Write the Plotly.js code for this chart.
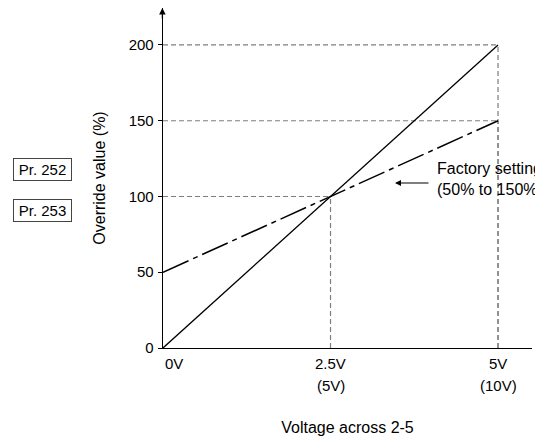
<!DOCTYPE html>
<html>
<head>
<meta charset="utf-8">
<script src="https://cdn.plot.ly/plotly-3.0.1.min.js"></script>
<style>html,body{margin:0;padding:0;background:#fff;}#chart{width:535px;height:441px;}</style>
</head>
<body>
<div id="chart"></div>
<script>
// ---- data ----
var voltage = [0, 2.5, 5];                 // Voltage across 2-5 (V)
var overrideMax = [0, 100, 200];            // solid line
var factorySetting = [50, 100, 150];        // dash-dot line (factory setting 50% to 150%)
var yTickVals = [0, 50, 100, 150, 200];
var xTickVals = [0, 2.5, 5];
var xTickLine1 = ['0V', '2.5V', '5V'];
var xTickLine2 = ['', '(5V)', '(10V)'];
var paramLabels = ['Pr. 252', 'Pr. 253'];

// ---- layout constants ----
var W = 535, H = 441, ML = 163, MR = 3, MT = 8, MB = 93;
var XMAX = 5.507, YMAX = 224.4;
var FONT = 'Liberation Sans, Arial, sans-serif';
var FS = 15, FT = 16;
function px2x(px) { return (px - ML) / (W - ML - MR); }
function py2y(py) { return (H - MB - py) / (H - MT - MB); }

var traces = [];
// guide (dashed gray) lines derived from data key points
var keyPts = [[voltage[1], overrideMax[1]], [voltage[2], factorySetting[2]], [voltage[2], overrideMax[2]]];
keyPts.forEach(function (p) {
  traces.push({x: [0, p[0]], y: [p[1], p[1]], mode: 'lines', hoverinfo: 'skip', showlegend: false,
    line: {color: '#7f7f7f', width: 1.2, dash: '5px,3px'}});
  traces.push({x: [p[0], p[0]], y: [0, p[1]], mode: 'lines', hoverinfo: 'skip', showlegend: false,
    line: {color: '#7f7f7f', width: 1.2, dash: '5px,3px'}});
});
traces.push({x: voltage, y: factorySetting, mode: 'lines', showlegend: false,
  line: {color: '#000', width: 1.5, dash: '28px,5px,5px,5px'}});
traces.push({x: voltage, y: overrideMax, mode: 'lines', showlegend: false,
  line: {color: '#000', width: 1.3}});

var annotations = [];
// y-axis arrow head
annotations.push({x: 0, y: YMAX, xref: 'x', yref: 'y', ax: 0, ay: YMAX - 8, axref: 'x', ayref: 'y', xshift: -0.6,
  showarrow: true, arrowhead: 2, arrowsize: 1, arrowwidth: 1.3, arrowcolor: '#000', text: ''});
// x tick labels
xTickVals.forEach(function (v, i) {
  annotations.push({x: v, y: 0, xref: 'x', yref: 'y', yanchor: 'top', yshift: -5,
    xanchor: i === 0 ? 'left' : 'center', showarrow: false, text: xTickLine1[i],
    font: {family: FONT, size: FS, color: '#000'}});
  if (xTickLine2[i]) {
    annotations.push({x: v, y: 0, xref: 'x', yref: 'y', yanchor: 'top', yshift: -27,
      xanchor: 'center', showarrow: false, text: xTickLine2[i],
      font: {family: FONT, size: FS, color: '#000'}});
  }
});
// parameter boxes
paramLabels.forEach(function (t, i) {
  annotations.push({x: px2x(42), y: py2y(169 + i * 41), xref: 'paper', yref: 'paper',
    xanchor: 'center', yanchor: 'middle', showarrow: false, text: t,
    width: 57, height: 21, bordercolor: '#444', borderwidth: 1, borderpad: 0,
    font: {family: FONT, size: FS, color: '#000'}});
});
// factory setting label + arrow
annotations.push({x: px2x(435), y: py2y(179), xref: 'paper', yref: 'paper', xanchor: 'left', yanchor: 'middle',
  align: 'left', showarrow: false, text: 'Factory setting<br>(50% to 150%)',
  font: {family: FONT, size: FT, color: '#000'}});
annotations.push({x: px2x(395), y: py2y(183), xref: 'paper', yref: 'paper', ax: 35, ay: 0,
  showarrow: true, arrowhead: 2, arrowsize: 1, arrowwidth: 1.2, arrowcolor: '#000', text: ''});

var layout = {
  width: W, height: H,
  margin: {l: ML, r: MR, t: MT, b: MB, pad: 0},
  paper_bgcolor: '#fff', plot_bgcolor: '#fff',
  font: {family: FONT, size: FS, color: '#000'},
  showlegend: false,
  xaxis: {range: [0, XMAX], showgrid: false, zeroline: false, showline: true, linecolor: '#000', linewidth: 1.3,
    showticklabels: false, ticks: '', fixedrange: true,
    title: {text: 'Voltage across 2-5', standoff: 73, font: {family: FONT, size: FT, color: '#000'}}},
  yaxis: {range: [0, YMAX], showgrid: false, zeroline: false, showline: true, linecolor: '#000', linewidth: 1.3,
    tickvals: yTickVals, ticks: 'outside', ticklen: 4, tickcolor: '#000', tickwidth: 1,
    ticklabelstandoff: 1, fixedrange: true,
    tickfont: {family: FONT, size: FS, color: '#000'},
    title: {text: 'Override value (%)', standoff: 19, font: {family: FONT, size: FT, color: '#000'}}},
  annotations: annotations
};

Plotly.newPlot('chart', traces, layout, {displayModeBar: false, staticPlot: true});
</script>
</body>
</html>
